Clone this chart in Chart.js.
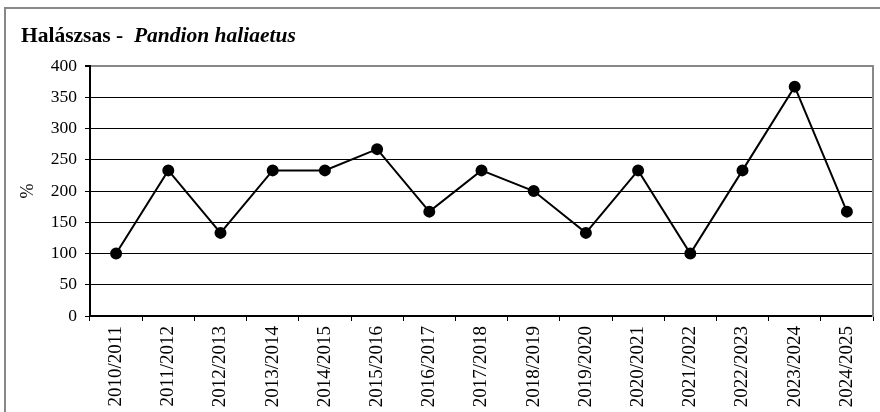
<!DOCTYPE html>
<html>
<head>
<meta charset="utf-8">
<script src="https://cdn.jsdelivr.net/npm/chart.js@4/dist/chart.umd.min.js"></script>
<style>
  html, body { margin: 0; padding: 0; background: #fff; }
  #wrap { position: relative; width: 880px; height: 412px; overflow: hidden; background: #fff; }
  #frame { position: absolute; left: 4px; top: 7px; width: 900px; height: 420px;
           border-left: 2px solid #888; border-top: 2px solid #888; box-sizing: border-box; pointer-events: none; }
  #title { position: absolute; left: 21px; top: 25px; font-family: "Liberation Serif", "Times New Roman", serif;
           font-size: 21.5px; line-height: 21px; font-weight: bold; color: #000; white-space: pre; }
  canvas { position: absolute; left: 0; top: 0; }
</style>
</head>
<body>
<div id="wrap">
  <canvas id="c" width="880" height="412"></canvas>
  <div id="frame"></div>
  <div id="title">Halászsas -  <i>Pandion haliaetus</i></div>
</div>
<script>
const categories = ["2010/2011","2011/2012","2012/2013","2013/2014","2014/2015","2015/2016","2016/2017","2017/2018","2018/2019","2019/2020","2020/2021","2021/2022","2022/2023","2023/2024","2024/2025"];
const values = [100, 233, 133, 233, 233, 267, 167, 233, 200, 133, 233, 100, 233, 367, 167];
const yMin = 0;
const yMax = 400;
const yStep = 50;
const yTitle = "%";

const serif = "'Liberation Serif', 'Times New Roman', serif";

new Chart(document.getElementById('c'), {
  type: 'line',
  data: {
    labels: categories,
    datasets: [{
      data: values,
      borderColor: '#000',
      borderWidth: 2,
      backgroundColor: '#000',
      pointBackgroundColor: '#000',
      pointBorderColor: '#000',
      pointRadius: 5,
      pointHoverRadius: 5,
      tension: 0,
      fill: false
    }]
  },
  options: {
    responsive: false,
    animation: false,
    devicePixelRatio: 1,
    layout: { padding: { left: 0, top: 66, right: 5, bottom: 0 } },
    plugins: { legend: { display: false }, tooltip: { enabled: false }, title: { display: false } },
    scales: {
      x: {
        type: 'category',
        offset: true,
        grid: { offset: true, drawOnChartArea: false, drawTicks: true, tickLength: 5, color: '#000', lineWidth: 1 },
        border: { color: '#000', width: 2 },
        ticks: { color: '#000', font: { family: serif, size: 19 }, minRotation: 90, maxRotation: 90, padding: 5, autoSkip: false },
        afterFit(s) { s.height = 96; }
      },
      y: {
        min: yMin, max: yMax,
        ticks: { stepSize: yStep, color: '#000', font: { family: serif, size: 17.5 }, padding: 8 },
        grid: {
          color: (ctx) => (ctx.tick && ctx.tick.value === yMax) ? '#888' : '#000',
          lineWidth: (ctx) => (ctx.tick && ctx.tick.value === yMax) ? 2 : 1,
          tickLength: 5, drawTicks: true,
          tickColor: '#000'
        },
        border: { color: '#000', width: 2 },
        title: { display: true, text: yTitle, color: '#000', font: { family: serif, size: 18 }, padding: { top: 17, bottom: 0 } },
        afterFit(s) { s.width = 90; }
      },
      y2: {
        position: 'right',
        min: yMin, max: yMax,
        grid: { display: false },
        ticks: { display: false },
        border: { display: true, color: '#888', width: 2 },
        afterFit(s) { s.width = 0; }
      }
    }
  }
});
</script>
</body>
</html>
